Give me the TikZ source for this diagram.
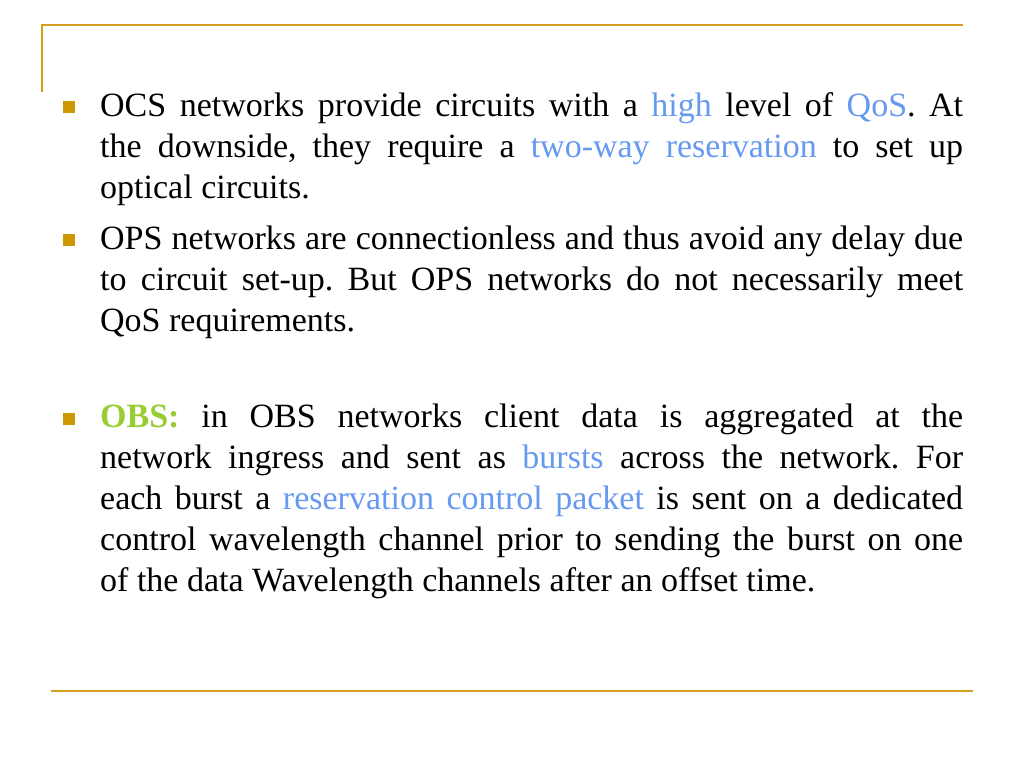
\documentclass[tikz,border=0pt]{standalone}
\usepackage{fontspec}
\setmainfont{Liberation Serif}
\definecolor{gold}{RGB}{212,160,30}
\definecolor{bulletgold}{RGB}{204,153,0}
\definecolor{hlblue}{RGB}{102,153,240}
\definecolor{hlgreen}{RGB}{153,204,51}
\newcommand{\hlb}[1]{\textcolor{hlblue}{#1}}
\newcommand{\jline}[1]{\makebox[863pt][s]{#1}}
\frenchspacing
\begin{document}
\begin{tikzpicture}[x=1pt,y=-1pt,
  txt/.style={anchor=base west,inner sep=0pt,font=\fontsize{34}{40}\selectfont},
  bulletbox/.style={fill=bulletgold,minimum size=11.5pt,inner sep=0pt,draw=none},
  rule/.style={draw=gold,line width=2pt}]
\useasboundingbox (0,0) rectangle (1024,768);
\fill[white] (0,0) rectangle (1024,768);
% frame lines
\coordinate (tl) at (42,25);
\coordinate (tr) at (963,25);
\coordinate (vb) at (42,92);
\coordinate (bl) at (51,691);
\coordinate (br) at (973,691);
\draw[rule] (vb) -- (tl) -- (tr);
\draw[rule] (bl) -- (br);
% bullets
\node[bulletbox] (b1) at (69,107) {};
\node[bulletbox] (b2) at (69,240) {};
\node[bulletbox] (b3) at (69,419) {};
% paragraph 1
\node[txt] (l1) at (100,116) {\jline{OCS networks provide circuits with a \hlb{high} level of \hlb{QoS}. At}};
\node[txt] (l2) at (100,157) {\jline{the downside, they require a \hlb{two-way reservation} to set up}};
\node[txt] (l3) at (100,198) {optical circuits.};
% paragraph 2
\node[txt] (l4) at (100,249) {\jline{OPS networks are connectionless and thus avoid any delay due}};
\node[txt] (l5) at (100,290) {\jline{to circuit set-up. But OPS networks do not necessarily meet}};
\node[txt] (l6) at (100,331) {QoS requirements.};
% paragraph 3
\node[txt] (l7) at (100,427) {\jline{\textcolor{hlgreen}{\bfseries OBS:} in OBS networks client data is aggregated at the}};
\node[txt] (l8) at (100,468) {\jline{network ingress and sent as \hlb{bursts} across the network. For}};
\node[txt] (l9) at (100,509) {\jline{each burst a \hlb{reservation control packet} is sent on a dedicated}};
\node[txt] (l10) at (100,550) {\jline{control wavelength channel prior to sending the burst on one}};
\node[txt] (l11) at (100,591) {of the data Wavelength channels after an offset time.};
\end{tikzpicture}
\end{document}
